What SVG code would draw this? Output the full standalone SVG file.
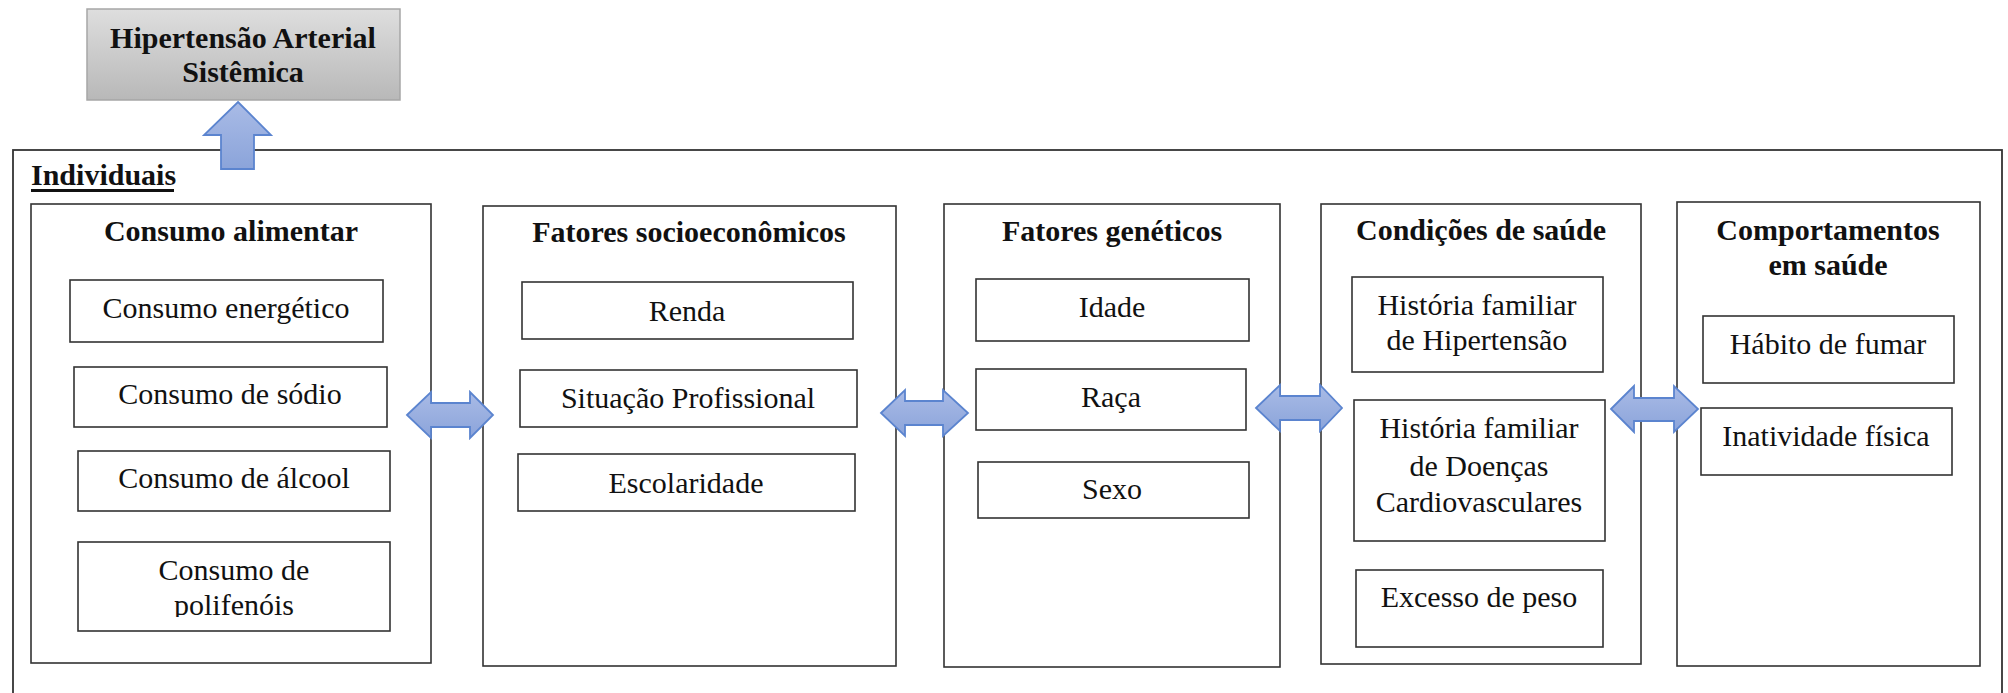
<svg xmlns="http://www.w3.org/2000/svg" width="2008" height="693" viewBox="0 0 2008 693">
<defs>
<linearGradient id="gray" x1="0" y1="0" x2="0" y2="1">
<stop offset="0" stop-color="#dedede"/>
<stop offset="1" stop-color="#b8b8b8"/>
</linearGradient>
<linearGradient id="blueV" x1="0" y1="0" x2="0" y2="1">
<stop offset="0" stop-color="#a9bbe6"/>
<stop offset="1" stop-color="#8ba4da"/>
</linearGradient>
<clipPath id="clipPoli"><rect x="78" y="542" width="312" height="75"/></clipPath>
<style>
.box{fill:#fff;stroke:#333;stroke-width:1.6}
.outer{fill:none;stroke:#333;stroke-width:1.8}
.t{font-family:"Liberation Serif","Times New Roman",serif;font-size:30px;fill:#111;text-anchor:middle}
.b{font-weight:bold}
.arrow{fill:url(#blueV);stroke:#5b84cf;stroke-width:1.8;stroke-linejoin:miter}
</style>
</defs>
<rect width="2008" height="693" fill="#fff"/>

<g id="individuais">
<rect class="outer" x="13" y="150" width="1989" height="560"/>
<text class="t b" x="31" y="185" style="text-anchor:start">Individuais</text>
<rect x="31" y="189" width="143" height="3" fill="#111"/>
</g>

<g id="hipertensao">
<rect x="87" y="9" width="313" height="91" fill="url(#gray)" stroke="#a6a6a6" stroke-width="1.5"/>
<text class="t b" x="243" y="48">Hipertensão Arterial</text>
<text class="t b" x="243" y="82">Sistêmica</text>
</g>

<g id="consumo-alimentar">
<rect class="box" x="31" y="204" width="400" height="459"/>
<text class="t b" x="231" y="241">Consumo alimentar</text>
<g id="consumo-energetico">
<rect class="box" x="70" y="280" width="313" height="62"/>
<text class="t" x="226" y="318">Consumo energético</text>
</g>
<g id="consumo-sodio">
<rect class="box" x="74" y="367" width="313" height="60"/>
<text class="t" x="230" y="404">Consumo de sódio</text>
</g>
<g id="consumo-alcool">
<rect class="box" x="78" y="451" width="312" height="60"/>
<text class="t" x="234" y="488">Consumo de álcool</text>
</g>
<g id="consumo-polifenois">
<rect class="box" x="78" y="542" width="312" height="89"/>
<g clip-path="url(#clipPoli)">
<text class="t" x="234" y="580">Consumo de</text>
<text class="t" x="234" y="615">polifenóis</text>
</g>
</g>
</g>

<g id="fatores-socioeconomicos">
<rect class="box" x="483" y="206" width="413" height="460"/>
<text class="t b" x="689" y="242">Fatores socioeconômicos</text>
<g id="renda">
<rect class="box" x="522" y="282" width="331" height="57"/>
<text class="t" x="687" y="321">Renda</text>
</g>
<g id="situacao-profissional">
<rect class="box" x="520" y="370" width="337" height="57"/>
<text class="t" x="688" y="408">Situação Profissional</text>
</g>
<g id="escolaridade">
<rect class="box" x="518" y="454" width="337" height="57"/>
<text class="t" x="686" y="493">Escolaridade</text>
</g>
</g>

<g id="fatores-geneticos">
<rect class="box" x="944" y="204" width="336" height="463"/>
<text class="t b" x="1112" y="241">Fatores genéticos</text>
<g id="idade">
<rect class="box" x="976" y="279" width="273" height="62"/>
<text class="t" x="1112" y="317">Idade</text>
</g>
<g id="raca">
<rect class="box" x="976" y="369" width="270" height="61"/>
<text class="t" x="1111" y="407">Raça</text>
</g>
<g id="sexo">
<rect class="box" x="978" y="462" width="271" height="56"/>
<text class="t" x="1112" y="499">Sexo</text>
</g>
</g>

<g id="condicoes-saude">
<rect class="box" x="1321" y="204" width="320" height="460"/>
<text class="t b" x="1481" y="240">Condições de saúde</text>
<g id="hf-hipertensao">
<rect class="box" x="1352" y="277" width="251" height="95"/>
<text class="t" x="1477" y="315">História familiar</text>
<text class="t" x="1477" y="350">de Hipertensão</text>
</g>
<g id="hf-doencas">
<rect class="box" x="1354" y="400" width="251" height="141"/>
<text class="t" x="1479" y="438">História familiar</text>
<text class="t" x="1479" y="476">de Doenças</text>
<text class="t" x="1479" y="512">Cardiovasculares</text>
</g>
<g id="excesso-peso">
<rect class="box" x="1356" y="570" width="247" height="77"/>
<text class="t" x="1479" y="607">Excesso de peso</text>
</g>
</g>

<g id="comportamentos-saude">
<rect class="box" x="1677" y="202" width="303" height="464"/>
<text class="t b" x="1828" y="240">Comportamentos</text>
<text class="t b" x="1828" y="275">em saúde</text>
<g id="habito-fumar">
<rect class="box" x="1703" y="316" width="251" height="67"/>
<text class="t" x="1828" y="354">Hábito de fumar</text>
</g>
<g id="inatividade-fisica">
<rect class="box" x="1701" y="408" width="251" height="67"/>
<text class="t" x="1826" y="446">Inatividade física</text>
</g>
</g>

<g id="connectors">
<path class="arrow" d="M238,102 L271,135 L254,135 L254,169 L221,169 L221,135 L204,135 Z"/>
<path class="arrow" d="M407,415 L431,392 L431,403 L470,403 L470,392 L493,415 L470,438 L470,427 L431,427 L431,438 Z"/>
<path class="arrow" d="M881,413 L905,390 L905,401 L943,401 L943,390 L968,413 L943,436 L943,425 L905,425 L905,436 Z"/>
<path class="arrow" d="M1256,408 L1280,385 L1280,396 L1320,396 L1320,385 L1342,408 L1320,431 L1320,420 L1280,420 L1280,431 Z"/>
<path class="arrow" d="M1611,409 L1634,386 L1634,398 L1674,398 L1674,386 L1698,409 L1674,432 L1674,421 L1634,421 L1634,432 Z"/>
</g>
</svg>
